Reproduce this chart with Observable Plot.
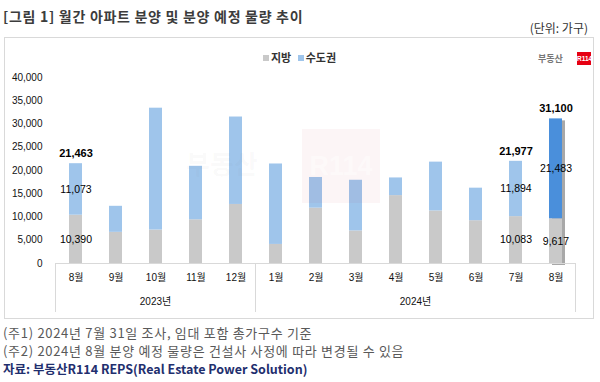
<!DOCTYPE html>
<html><head><meta charset="utf-8">
<script src="https://cdn.jsdelivr.net/npm/d3@7"></script>
<script src="https://cdn.jsdelivr.net/npm/@observablehq/plot@0.6"></script>
<style>
body{margin:0;background:#fff;}
#wrap{position:relative;width:600px;height:382px;overflow:hidden;font-family:"Noto Sans CJK KR","Liberation Sans",sans-serif;}
.abs{position:absolute;white-space:nowrap;}
</style></head><body>
<div id="wrap">
  <div class="abs" style="left:3px;top:8px;font-size:14px;line-height:16px;font-weight:bold;color:#3c3c3c;letter-spacing:0.7px;">[그림 1] 월간 아파트 분양 및 분양 예정 물량 추이</div>
  <div class="abs" style="right:12px;top:21px;font-size:12px;line-height:14px;color:#333;">(단위: 가구)</div>
  <div class="abs" style="left:4px;top:37px;width:588px;height:280px;border:1px solid #d9d9d9;"></div>
  <div id="chart" class="abs" style="left:0;top:37px;"></div>
  <div class="abs" style="left:263px;top:50px;font-size:11px;line-height:14px;font-weight:bold;color:#333;">
    <span style="display:inline-block;width:6px;height:6px;background:#c9c9c9;margin-right:2px;vertical-align:1px;"></span>지방
    <span style="display:inline-block;width:6px;height:6px;background:#9fc5eb;margin-left:4px;margin-right:2px;vertical-align:1px;"></span>수도권
  </div>
  <div class="abs" style="left:538px;top:54px;font-size:9px;line-height:10px;color:#777;font-weight:bold;">부동산</div>
  <div class="abs" style="left:577px;top:52px;width:14px;height:13px;background:#e60012;color:#fff;font-size:6.5px;line-height:13px;font-weight:bold;text-align:center;font-family:'Liberation Sans';">R114</div>
  <div class="abs" style="left:186px;top:148px;font-size:26px;line-height:30px;font-weight:bold;color:rgba(120,120,120,0.045);pointer-events:none;">부동산</div>
  <div class="abs" style="left:302px;top:129px;width:78px;height:74px;background:rgba(200,60,70,0.05);color:rgba(255,255,255,0.45);font-size:27px;line-height:74px;font-weight:bold;text-align:center;font-family:'Liberation Sans';pointer-events:none;">R114</div>
  <div class="abs" style="left:3px;top:325px;font-size:13px;line-height:16px;color:#595959;letter-spacing:0.7px;">(주1) 2024년 7월 31일 조사, 임대 포함 총가구수 기준</div>
  <div class="abs" style="left:3px;top:343px;font-size:13px;line-height:16px;color:#595959;letter-spacing:0.7px;">(주2) 2024년 8월 분양 예정 물량은 건설사 사정에 따라 변경될 수 있음</div>
  <div class="abs" style="left:3px;top:361px;font-size:12.5px;line-height:16px;color:#1f2f6e;font-weight:bold;">자료: 부동산R114 REPS(Real Estate Power Solution)</div>
</div>
<script>
const months = ["8월","9월","10월","11월","12월","1월","2월","3월","4월","5월","6월","7월","8월"];
const years  = ["2023년","2023년","2023년","2023년","2023년","2024년","2024년","2024년","2024년","2024년","2024년","2024년","2024년"];
const jibang = [10390, 6700, 7200, 9400, 12700, 4100, 11900, 7000, 14600, 11300, 9200, 10083, 9617];
const sudo   = [11073, 5600, 26200, 11500, 18800, 17300, 6600, 10900, 3800, 10500, 7000, 11894, 21483];
const yTicks = [0,5000,10000,15000,20000,25000,30000,35000,40000];
const seriesNames = ["지방","수도권"];
const labeledKeys = ["2023년-8월","2024년-7월","2024년-8월"];
const highlightKey = "2024년-8월";

const keys = months.map((m,i)=>years[i]+"-"+m);
const rows = [];
keys.forEach((k,i)=>{
  rows.push({key:k, series:seriesNames[0], value:jibang[i], tone:"지방"});
  rows.push({key:k, series:seriesNames[1], value:sudo[i], tone:k===highlightKey?"수도권 강조":"수도권"});
});
const totals = keys.map((k,i)=>({key:k, month:months[i], j:jibang[i], s:sudo[i], total:jibang[i]+sudo[i]}));
const lab = totals.filter(d=>labeledKeys.includes(d.key));
const fmt = d3.format(",");
const numFont = "'Liberation Sans', Arial, sans-serif";

const plot = Plot.plot({
  width:600, height:281,
  marginLeft:50, marginRight:19, marginTop:40, marginBottom:55,
  style:{background:"transparent", fontFamily:"'Liberation Sans','Noto Sans CJK KR',sans-serif", fontSize:"10px", color:"#222"},
  x:{type:"band", domain:keys, paddingInner:0.68, paddingOuter:0.34, axis:null},
  y:{domain:[0,40000], axis:null},
  color:{domain:["지방","수도권","수도권 강조"], range:["#c9c9c9","#9fc5eb","#4a8fdb"]},
  marks:[
    Plot.axisY({ticks:yTicks, tickSize:0, tickPadding:8, tickFormat:fmt, fontSize:10, fill:"#111", fontFamily:numFont}),
    Plot.barY(totals.filter(d=>d.key===highlightKey), {x:"key", y:"total", fill:"#a8a8a8", dx:3, dy:2}),
    Plot.barY(rows, {x:"key", y:"value", z:"series", fill:"tone"}),
    Plot.text(lab, {x:"key", y:d=>d.j/2, text:d=>fmt(d.j), fontSize:10.5, fill:"#000", fontFamily:numFont}),
    Plot.text(lab, {x:"key", y:d=>d.j+d.s/2, text:d=>fmt(d.s), fontSize:10.5, fill:"#000", fontFamily:numFont}),
    Plot.text(lab, {x:"key", y:"total", text:d=>fmt(d.total), dy:-10, fontSize:11, fontWeight:"bold", fill:"#000", fontFamily:numFont}),
    Plot.text(totals, {x:"key", text:"month", frameAnchor:"bottom", dy:17, fontSize:10, fill:"#111"})
  ]
});
document.getElementById("chart").appendChild(plot);

// category table lines and year labels from the x scale
const xs = plot.scale("x");
const gap = (xs.step - xs.bandwidth)/2;
const svg = d3.select(plot);
const y0 = 281-55, y1 = 275;
const firstOf = y => keys[years.indexOf(y)];
const lastOf = y => keys[years.lastIndexOf(y)];
const uniqYears = Array.from(new Set(years));
const g = svg.append("g");
const left = xs.apply(keys[0]) - gap;
const right = xs.apply(keys[keys.length-1]) + xs.bandwidth + gap;
g.append("line").attr("x1",left).attr("x2",right).attr("y1",y0+0.5).attr("y2",y0+0.5).attr("stroke","#d9d9d9");
const bounds = [left, ...uniqYears.map(y=>xs.apply(lastOf(y)) + xs.bandwidth + gap)];
bounds.forEach(b=>{
  g.append("line").attr("x1",b).attr("x2",b).attr("y1",y0).attr("y2",y1).attr("stroke","#d9d9d9");
});
uniqYears.forEach(y=>{
  const a = xs.apply(firstOf(y)) + xs.bandwidth/2;
  const b = xs.apply(lastOf(y)) + xs.bandwidth/2;
  g.append("text").attr("x",(a+b)/2).attr("y",264).attr("dy","0.35em").attr("text-anchor","middle")
    .attr("font-size",10).attr("fill","#111").text(y);
});
</script>
</body></html>
